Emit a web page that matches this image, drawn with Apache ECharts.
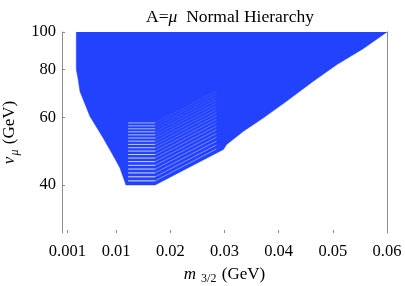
<!DOCTYPE html>
<html>
<head>
<meta charset="utf-8">
<script src="https://cdn.jsdelivr.net/npm/echarts@6/dist/echarts.min.js"></script>
<style>html,body{margin:0;padding:0;background:#fff}#c{width:405px;height:286px}</style>
</head>
<body>
<div id="c"></div>
<script>
// ---- data ----
const xTicks = [0.001, 0.01, 0.02, 0.03, 0.04, 0.05, 0.06];
const yTicks = [40, 60, 80, 100];
const regionTopV = 100;
// lower boundary of the allowed region (m3/2 in GeV, v_mu in GeV)
const lowerX = [0.00264, 0.0030, 0.00332, 0.00517, 0.00757, 0.0096, 0.0107, 0.0118, 0.0172, 0.0298, 0.0304, 0.0335, 0.0372, 0.0415, 0.0464, 0.0507, 0.0556, 0.0600];
const lowerV = [80, 75, 70, 60.3, 53.1, 47.3, 44.3, 40, 40, 49.5, 51.0, 55.2, 59.8, 66.1, 74.5, 82.2, 90.5, 100];
// white gap streaks inside the region
const streakLevels = [41, 42, 43, 44, 45, 46, 47, 48, 49, 50, 51, 52, 53, 54, 55, 56, 57, 58];
const streakXStart = 0.0122, streakXBend = 0.0172, streakXEnd = 0.0285, streakRise = 1.21;

const lg = Math.log10;
const FONT = '"Liberation Serif", "DejaVu Serif", serif';
const BLUE = '#2342FE';

const chart = echarts.init(document.getElementById('c'), null, {renderer: 'canvas'});

const poly = [[lowerX[0], regionTopV]].concat(lowerX.map((x, i) => [x, lowerV[i]]));

const series = [{
  type: 'custom',
  silent: true,
  clip: true,
  data: [[0.03, 1.7]],
  renderItem: function (params, api) {
    const pts = poly.map(p => api.coord([p[0], lg(p[1])]));
    return {type: 'polygon', shape: {points: pts}, style: {fill: BLUE, stroke: BLUE, lineWidth: 0.5}};
  },
  z: 1
}];

streakLevels.forEach((v, i) => {
  series.push({
    type: 'line', silent: true, symbol: 'none', z: 3,
    lineStyle: {color: '#ffffff', width: 1, opacity: 0.85 - 0.015 * i},
    data: [[streakXStart, lg(v)], [streakXBend, lg(v)]]
  });
  series.push({
    type: 'line', silent: true, symbol: 'none', z: 3,
    lineStyle: {color: '#ffffff', width: 0.8, opacity: Math.max(0.12, 0.55 - 0.028 * i)},
    data: [[streakXBend, lg(v)], [streakXEnd, lg(v * streakRise)]]
  });
});

const axisGrey = '#8c8c8c';
const rn = {fontFamily: FONT, fontSize: 16, fontWeight: 'normal', color: '#000'};
const ri = {fontFamily: FONT, fontSize: 16, fontWeight: 'normal', fontStyle: 'italic', color: '#000'};

chart.setOption({
  animation: false,
  backgroundColor: '#fff',
  title: {
    text: '{n|A=}{i|μ}{n|  Normal Hierarchy}',
    left: 225, top: 3, textAlign: 'center',
    textStyle: {fontWeight: 'normal', rich: {n: Object.assign({}, rn, {fontSize: 17.5}), i: Object.assign({}, ri, {fontSize: 17.5})}}
  },
  grid: {left: 62, right: 18, top: 32, bottom: 53, containLabel: false, outerBoundsMode: 'none'},
  xAxis: {
    type: 'value', min: 0, max: 0.06,
    name: '{i|m}{s| 3/2} {n|(GeV)}',
    nameLocation: 'middle', nameGap: 31,
    nameTextStyle: {
      rich: {
        i: Object.assign({}, ri, {fontSize: 17}),
        s: {fontFamily: FONT, fontSize: 12, color: '#000', padding: [9, 2, 0, 2]},
        n: Object.assign({}, rn, {fontSize: 17})
      }
    },
    axisLine: {show: false},
    axisTick: {show: true, inside: true, length: 3, customValues: xTicks, lineStyle: {color: axisGrey}},
    axisLabel: {customValues: xTicks, formatter: v => String(v), fontFamily: FONT, fontSize: 16.5, color: '#000', margin: 10},
    splitLine: {show: false}
  },
  yAxis: [{
    type: 'value', min: lg(30), max: lg(100),
    name: '{i|ν}{s|μ} {n|(GeV)}',
    nameLocation: 'middle', nameGap: 40, nameRotate: 90,
    nameTextStyle: {
      rich: {
        i: Object.assign({}, ri, {fontSize: 17}),
        s: {fontFamily: FONT, fontSize: 12, fontStyle: 'italic', color: '#000', padding: [9, 2, 0, 1]},
        n: Object.assign({}, rn, {fontSize: 17})
      }
    },
    axisLine: {show: true, lineStyle: {color: axisGrey, width: 1}},
    axisTick: {show: true, inside: true, length: 3, customValues: yTicks.map(lg), lineStyle: {color: axisGrey}},
    axisLabel: {customValues: yTicks.map(lg), formatter: v => String(Math.round(Math.pow(10, v))), fontFamily: FONT, fontSize: 16.5, color: '#000', margin: 6},
    splitLine: {show: false}
  }, {
    type: 'value', position: 'right', min: lg(30), max: lg(100),
    axisLine: {show: true, lineStyle: {color: axisGrey, width: 1}},
    axisTick: {show: false}, axisLabel: {show: false}, splitLine: {show: false}
  }],
  series: series
});
</script>
</body>
</html>
